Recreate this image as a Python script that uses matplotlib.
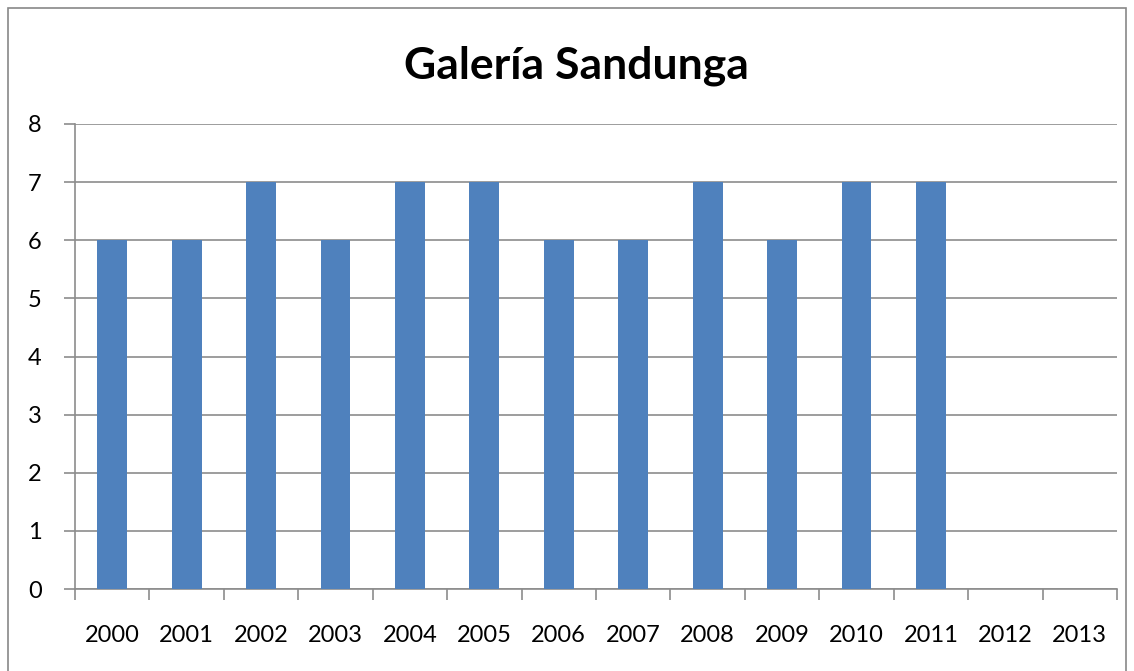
import numpy as np
import matplotlib.pyplot as plt
from matplotlib.patches import Rectangle

years = ['2000', '2001', '2002', '2003', '2004', '2005', '2006',
         '2007', '2008', '2009', '2010', '2011', '2012', '2013']
values = [6, 6, 7, 6, 7, 7, 6, 6, 7, 6, 7, 7, 0, 0]

plt.rcParams['font.family'] = ['Lato', 'DejaVu Sans']

fig = plt.figure(figsize=(11.34, 6.71), dpi=100)
# outer chart frame (bottom edge runs off the image, as in the original)
fig.patches.append(Rectangle((8 / 1134, -10 / 671), 1118 / 1134, 673 / 671,
                             transform=fig.transFigure, fill=False,
                             edgecolor='#888888', linewidth=1.2))
ax = fig.add_axes([75 / 1134, 1 - 589 / 671, 1042 / 1134, 465 / 671])

x = np.arange(len(years))
ax.bar(x, values, width=0.4, color='#4f81bd', zorder=3)

ax.set_xlim(-0.5, len(years) - 0.5)
ax.set_ylim(0, 8)
ax.set_yticks(range(0, 9))
ax.yaxis.grid(True, color='#8c8c8c', linewidth=1.2, zorder=0)

ax.set_xticks(np.arange(-0.5, len(years), 1))
ax.set_xticklabels([])
ax.set_xticks(x, minor=True)
ax.set_xticklabels(years, minor=True)
ax.tick_params(axis='x', which='major', length=8, width=1.2, color='#8c8c8c', direction='out')
ax.tick_params(axis='x', which='minor', length=0, labelsize=17, pad=26)
ax.tick_params(axis='y', length=8, width=1.2, color='#8c8c8c', labelsize=17, pad=16)

for side in ['top', 'right']:
    ax.spines[side].set_visible(False)
for side in ['left', 'bottom']:
    ax.spines[side].set_color('#8c8c8c')
    ax.spines[side].set_linewidth(1.2)

fig.text(0.5 * (405 + 748) / 1134, 1 - 78 / 671, 'Galería Sandunga', ha='center',
         va='baseline', fontsize=32, fontweight='bold')

fig.savefig('out.png', dpi=100)
